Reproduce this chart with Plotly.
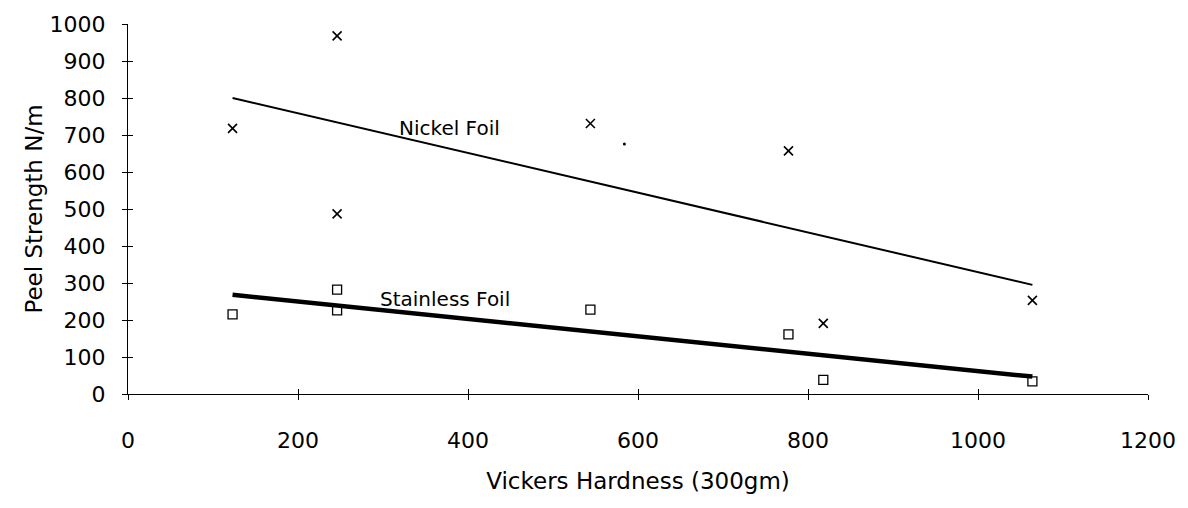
import plotly.graph_objects as go

# Nickel foil data (x markers)
nickel_x = [123, 246, 246, 544, 777, 818, 1064]
nickel_y = [718, 968, 487, 731, 657, 191, 253]
# Stainless foil data (open squares)
stain_x = [123, 246, 246, 544, 777, 818, 1064]
stain_y = [215, 282, 226, 228, 161, 38, 34]
# Trend lines (end points)
nickel_fit_x = [123, 1064]
nickel_fit_y = [800, 295]
stain_fit_x = [123, 1064]
stain_fit_y = [268, 47]
# stray dot
dot_x = [584]
dot_y = [676]

x_ticks = [0, 200, 400, 600, 800, 1000, 1200]
y_ticks = list(range(0, 1001, 100))

FONT = "DejaVu Sans"

fig = go.Figure()
fig.add_trace(go.Scatter(x=nickel_fit_x, y=nickel_fit_y, mode="lines",
                         line=dict(color="black", width=2), showlegend=False))
fig.add_trace(go.Scatter(x=stain_fit_x, y=stain_fit_y, mode="lines",
                         line=dict(color="black", width=4.5), showlegend=False))
fig.add_trace(go.Scatter(x=nickel_x, y=nickel_y, mode="markers",
                         marker=dict(symbol="x-thin-open", size=9, color="black",
                                     line=dict(color="black", width=1.6)),
                         showlegend=False))
fig.add_trace(go.Scatter(x=stain_x, y=stain_y, mode="markers",
                         marker=dict(symbol="square-open", size=9, color="black",
                                     line=dict(color="black", width=1.3)),
                         showlegend=False))
fig.add_trace(go.Scatter(x=dot_x, y=dot_y, mode="markers",
                         marker=dict(symbol="circle", size=3, color="black"),
                         showlegend=False))

fig.add_annotation(x=317, y=720, text="Nickel Foil", showarrow=False,
                   xanchor="left", yanchor="middle",
                   font=dict(family=FONT, size=20, color="black"))
fig.add_annotation(x=294, y=257, text="Stainless Foil", showarrow=False,
                   xanchor="left", yanchor="middle",
                   font=dict(family=FONT, size=20, color="black"))

fig.update_layout(
    width=1188, height=508,
    margin=dict(l=128, r=35, t=18, b=114),
    plot_bgcolor="white", paper_bgcolor="white",
    font=dict(family=FONT, size=22, color="black"),
    xaxis=dict(range=[0, 1200], tickvals=x_ticks, ticks="outside", ticklen=5,
               tickcolor="black", showline=True, linecolor="black", linewidth=1,
               showgrid=False, zeroline=False, ticklabelstandoff=22,
               tickfont=dict(size=22),
               title=dict(text="Vickers Hardness (300gm)", standoff=20,
                          font=dict(size=23))),
    yaxis=dict(range=[0, 1000], tickvals=y_ticks, ticks="outside", ticklen=5,
               tickcolor="black", showline=True, linecolor="black", linewidth=1,
               showgrid=False, zeroline=False, ticklabelstandoff=12,
               tickfont=dict(size=22),
               title=dict(text="Peel Strength N/m", standoff=0,
                          font=dict(size=23))),
    xaxis2=dict(range=[0, 1200], tickvals=x_ticks, ticks="inside", ticklen=5,
                tickcolor="black", overlaying="x", side="bottom",
                showticklabels=False, showgrid=False, zeroline=False),
    yaxis2=dict(range=[0, 1000], tickvals=y_ticks, ticks="inside", ticklen=5,
                tickcolor="black", overlaying="y", side="left",
                showticklabels=False, showgrid=False, zeroline=False),
)
# invisible trace to activate secondary axes
fig.add_trace(go.Scatter(x=[0], y=[0], xaxis="x2", yaxis="y2", mode="markers",
                         marker=dict(opacity=0), showlegend=False, hoverinfo="skip"))

fig.write_html("out.html")
